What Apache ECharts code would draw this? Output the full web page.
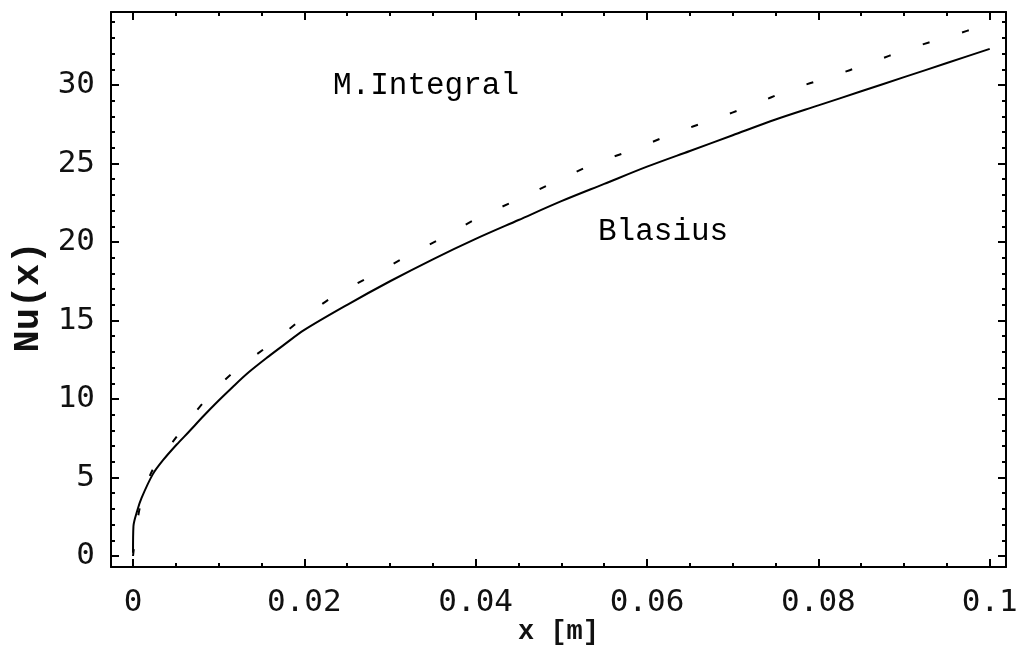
<!DOCTYPE html>
<html>
<head>
<meta charset="utf-8">
<script src="https://cdn.jsdelivr.net/npm/echarts@6/dist/echarts.min.js"></script>
<style>
html,body{margin:0;padding:0;background:#fff;}
#chart{width:1026px;height:646px;}
</style>
</head>
<body>
<div id="chart"></div>
<script>
// ---- data ----
const blasiusX = [0, 0.00005, 0.0005, 0.001, 0.0023, 0.0035, 0.0051, 0.0065, 0.0082, 0.01, 0.0117, 0.0135, 0.0158, 0.0175, 0.02, 0.025, 0.03, 0.035, 0.04, 0.045, 0.05, 0.055, 0.06, 0.065, 0.07, 0.075, 0.08, 0.085, 0.09, 0.095, 0.1];
const blasiusY = [0.2, 1.9, 2.9, 3.7, 5.2, 6.1, 7.1, 7.9, 8.9, 9.9, 10.8, 11.7, 12.7, 13.4, 14.4, 16.0, 17.5, 18.9, 20.2, 21.4, 22.6, 23.7, 24.8, 25.8, 26.8, 27.8, 28.7, 29.6, 30.5, 31.4, 32.3];

const integralX = [0, 0.0008, 0.0023, 0.0051, 0.0084, 0.0117, 0.0158, 0.0195, 0.0233, 0.0277, 0.032, 0.0362, 0.0405, 0.0449, 0.0495, 0.0539, 0.0585, 0.063, 0.0677, 0.0722, 0.0767, 0.0813, 0.086, 0.0905, 0.0953, 0.1];
const integralY = [0, 3.1, 5.5, 7.6, 9.9, 11.7, 13.4, 15.0, 16.5, 17.8, 19.1, 20.3, 21.6, 22.7, 23.9, 25.0, 25.9, 26.9, 27.8, 28.7, 29.7, 30.5, 31.4, 32.3, 33.1, 33.9];

const xTicks = [0, 0.02, 0.04, 0.06, 0.08, 0.1];
const xTickLabels = ['0', '0.02', '0.04', '0.06', '0.08', '0.1'];
const yTicks = [0, 5, 10, 15, 20, 25, 30];
const yTickLabels = ['0', '5', '10', '15', '20', '25', '30'];
const seriesNames = ['Blasius', 'M.Integral'];
const xName = 'x [m]';
const yName = 'Nu(x)';

// ---- layout ----
const X_MIN = -0.00257, X_MAX = 0.1019;
const Y_MIN = -0.7, Y_MAX = 34.65;

const xMinor = [];
for (let i = 0; i <= 20; i++) { const v = +(i * 0.005).toFixed(4); if (v <= X_MAX) xMinor.push(v); }
const yMinor = [];
for (let i = 0; i <= 34; i++) yMinor.push(i);

const black = '#000';
const monoFont = "'Courier New', 'Liberation Mono', monospace";
const tickFont = { fontFamily: 'DejaVu Sans Mono', fontSize: 31, color: '#111' };

function xAxisDef(pos, values, len, showLabel, showLine, extra) {
  return Object.assign({
    type: 'value', position: pos, min: X_MIN, max: X_MAX,
    axisLine: { show: showLine, onZero: false, lineStyle: { color: black, width: 2 } },
    axisTick: { show: true, inside: true, length: len, customValues: values, lineStyle: { color: black, width: 2 } },
    axisLabel: showLabel ? Object.assign({
      show: true, customValues: xTicks, margin: 20,
      formatter: v => { const i = xTicks.findIndex(t => Math.abs(t - v) < 1e-9); return i >= 0 ? xTickLabels[i] : ''; }
    }, tickFont) : { show: false },
    splitLine: { show: false }
  }, extra || {});
}
function yAxisDef(pos, values, len, showLabel, showLine, extra) {
  return Object.assign({
    type: 'value', position: pos, min: Y_MIN, max: Y_MAX,
    axisLine: { show: showLine, onZero: false, lineStyle: { color: black, width: 2 } },
    axisTick: { show: true, inside: true, length: len, customValues: values, lineStyle: { color: black, width: 2 } },
    axisLabel: showLabel ? Object.assign({
      show: true, customValues: yTicks, margin: 16,
      formatter: v => { const i = yTicks.findIndex(t => Math.abs(t - v) < 1e-9); return i >= 0 ? yTickLabels[i] : ''; }
    }, tickFont) : { show: false },
    splitLine: { show: false }
  }, extra || {});
}

const chart = echarts.init(document.getElementById('chart'), null, { renderer: 'canvas' });
chart.setOption({
  animation: false,
  backgroundColor: '#fff',
  grid: { left: 111, right: 20, top: 12, bottom: 79, containLabel: false, outerBoundsMode: 'none' },
  xAxis: [
    xAxisDef('bottom', xTicks, 8, true, true, {
      name: xName, nameLocation: 'middle', nameGap: 52, nameMoveOverlap: false,
      nameTextStyle: { fontFamily: monoFont, fontWeight: 'bold', fontSize: 27, color: '#111' }
    }),
    xAxisDef('bottom', xMinor, 4, false, false),
    xAxisDef('top', xTicks, 8, false, true),
    xAxisDef('top', xMinor, 4, false, false)
  ],
  yAxis: [
    yAxisDef('left', yTicks, 8, true, true),
    yAxisDef('left', yMinor, 4, false, false),
    yAxisDef('right', yTicks, 8, false, true),
    yAxisDef('right', yMinor, 4, false, false)
  ],
  series: [
    {
      name: seriesNames[0], type: 'line', xAxisIndex: 0, yAxisIndex: 0,
      data: blasiusX.map((x, i) => [x, blasiusY[i]]),
      showSymbol: false, symbol: 'none', smooth: 0.3,
      lineStyle: { color: black, width: 2 }
    },
    {
      name: seriesNames[1], type: 'line', xAxisIndex: 0, yAxisIndex: 0,
      data: integralX.map((x, i) => [x, integralY[i]]),
      showSymbol: false, symbol: 'none', smooth: 0.3,
      lineStyle: { color: black, width: 2, type: [7, 34], dashOffset: 0 }
    }
  ],
  graphic: [
    { type: 'text', left: 333, top: 70, style: { text: seriesNames[1], fontFamily: monoFont, fontSize: 31, fill: '#000' } },
    { type: 'text', left: 598, top: 216, style: { text: seriesNames[0], fontFamily: monoFont, fontSize: 31, fill: '#000' } },
    { type: 'text', x: 29, y: 297, rotation: Math.PI / 2,
      style: { text: yName, fontFamily: monoFont, fontWeight: 'bold', fontSize: 37, fill: '#111', align: 'center', verticalAlign: 'middle' } }
  ]
});
</script>
</body>
</html>
